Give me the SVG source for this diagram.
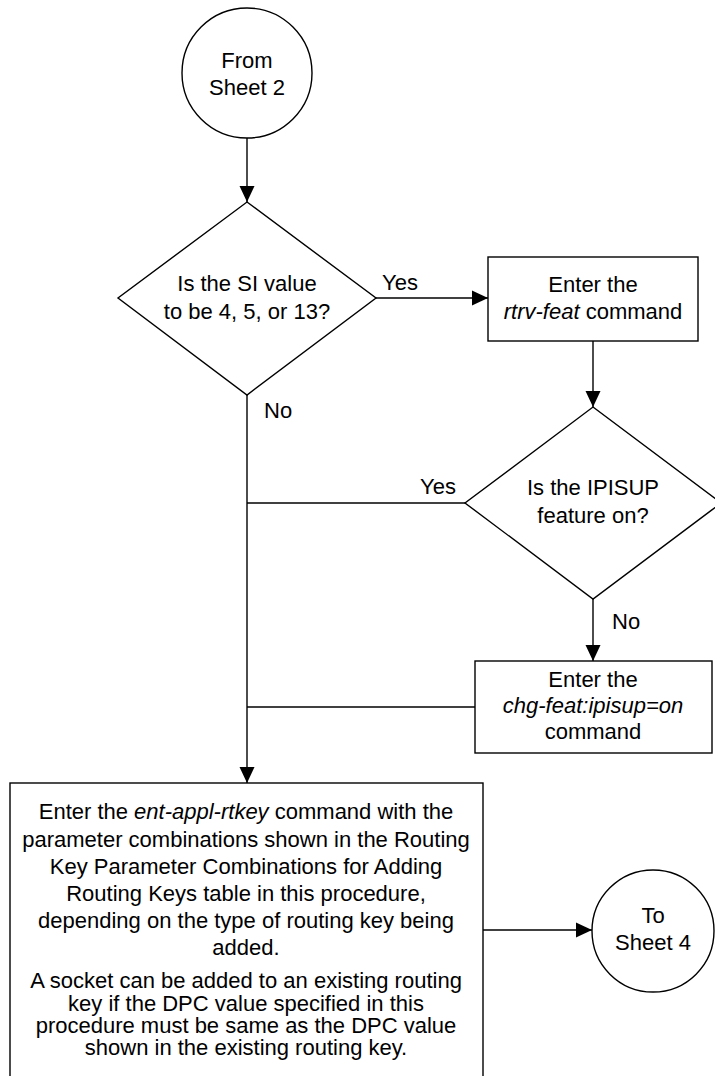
<svg xmlns="http://www.w3.org/2000/svg" width="715" height="1076" viewBox="0 0 715 1076">
  <defs>
    <marker id="arrow" markerUnits="userSpaceOnUse" markerWidth="16" markerHeight="16" viewBox="0 0 16 16" refX="16" refY="8" orient="auto">
      <path d="M0,0.5 L16,8 L0,15.5 Z" fill="#000"/>
    </marker>
    <style>
      .shape { fill: #fff; stroke: #000; stroke-width: 1.4; }
      .edge { fill: none; stroke: #000; stroke-width: 1.4; }
      text { font-family: "Liberation Sans", Arial, Helvetica, sans-serif; font-size: 22px; fill: #000; text-anchor: middle; }
      .lbl { text-anchor: start; }
      .it { font-style: italic; }
    </style>
  </defs>
  <rect width="715" height="1076" fill="#fff"/>

  <!-- connectors -->
  <g id="connectors">
    <line class="edge" x1="247" y1="138" x2="247" y2="202" marker-end="url(#arrow)"/>
    <line class="edge" x1="376" y1="298" x2="488" y2="298" marker-end="url(#arrow)"/>
    <line class="edge" x1="593" y1="341" x2="593" y2="407" marker-end="url(#arrow)"/>
    <line class="edge" x1="465" y1="503" x2="247" y2="503"/>
    <line class="edge" x1="593" y1="599" x2="593" y2="661" marker-end="url(#arrow)"/>
    <line class="edge" x1="475" y1="707" x2="247" y2="707"/>
    <line class="edge" x1="247" y1="395" x2="247" y2="783" marker-end="url(#arrow)"/>
    <line class="edge" x1="483" y1="930" x2="592" y2="930" marker-end="url(#arrow)"/>
    <text class="lbl" x="382" y="290">Yes</text>
    <text class="lbl" x="264" y="418">No</text>
    <text class="lbl" x="420" y="494">Yes</text>
    <text class="lbl" x="612" y="629">No</text>
  </g>

  <!-- off-page connector: from sheet 2 -->
  <g id="from-sheet2">
    <circle class="shape" cx="247" cy="73" r="65"/>
    <text x="247" y="68">From</text>
    <text x="247" y="95">Sheet 2</text>
  </g>

  <!-- decision: SI value -->
  <g id="si-decision">
    <polygon class="shape" points="247,202 376,298 247,395 118,298"/>
    <text x="247" y="291">Is the SI value</text>
    <text x="247" y="319">to be 4, 5, or 13?</text>
  </g>

  <!-- rtrv-feat step -->
  <g id="rtrv-feat">
    <rect class="shape" x="488" y="257" width="210" height="84"/>
    <text x="593" y="292">Enter the</text>
    <text x="593" y="319"><tspan class="it">rtrv-feat</tspan> command</text>
  </g>

  <!-- decision: IPISUP feature -->
  <g id="ipisup-decision">
    <polygon class="shape" points="593,407 721,503 593,599 465,503"/>
    <text x="593" y="495">Is the IPISUP</text>
    <text x="593" y="523">feature on?</text>
  </g>

  <!-- chg-feat step -->
  <g id="chg-feat">
    <rect class="shape" x="475" y="661" width="237" height="92"/>
    <text x="593" y="687">Enter the</text>
    <text x="593" y="713" class="it">chg-feat:ipisup=on</text>
    <text x="593" y="739">command</text>
  </g>

  <!-- ent-appl-rtkey step -->
  <g id="ent-appl-rtkey">
    <rect class="shape" x="10" y="783" width="473" height="300"/>
    <text x="246" y="819">Enter the <tspan class="it">ent-appl-rtkey</tspan> command with the</text>
    <text x="246" y="847">parameter combinations shown in the Routing</text>
    <text x="246" y="874">Key Parameter Combinations for Adding</text>
    <text x="246" y="901">Routing Keys table in this procedure,</text>
    <text x="246" y="928">depending on the type of routing key being</text>
    <text x="246" y="955">added.</text>
    <text x="246" y="988">A socket can be added to an existing routing</text>
    <text x="246" y="1011">key if the DPC value specified in this</text>
    <text x="246" y="1033">procedure must be same as the DPC value</text>
    <text x="246" y="1055">shown in the existing routing key.</text>
  </g>

  <!-- off-page connector: to sheet 4 -->
  <g id="to-sheet4">
    <circle class="shape" cx="653" cy="931" r="61"/>
    <text x="653" y="923">To</text>
    <text x="653" y="950">Sheet 4</text>
  </g>
</svg>
